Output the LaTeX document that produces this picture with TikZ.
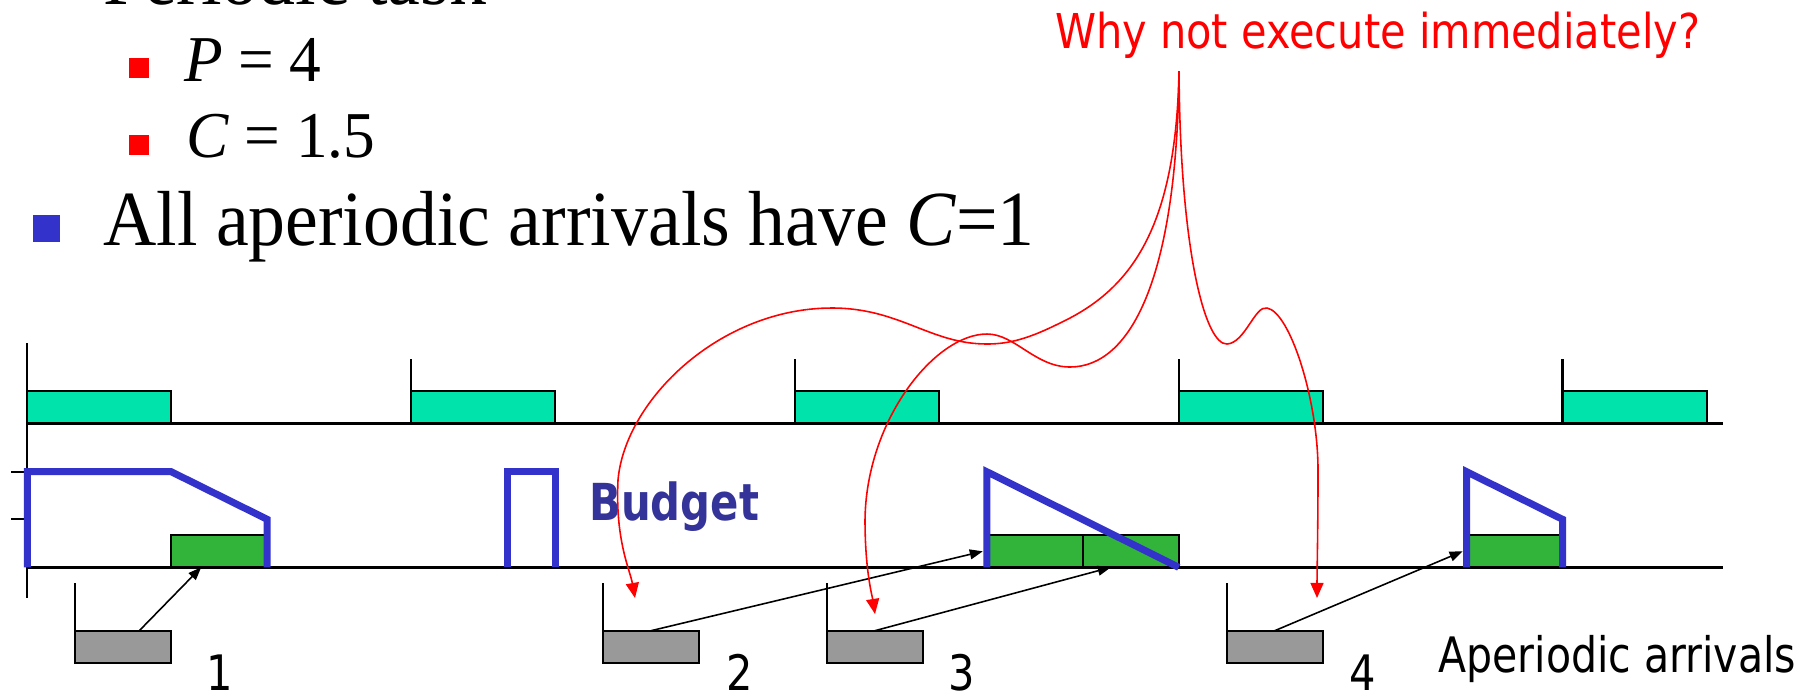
\documentclass[tikz,border=0pt]{standalone}
\usepackage{fontspec}
\usepackage{graphicx}
\setmainfont{Liberation Serif}
\newfontfamily\slidesans{DejaVu Sans}
\usetikzlibrary{arrows.meta,calc}
\definecolor{periodteal}{HTML}{00E3AA}
\definecolor{execgreen}{HTML}{32B43A}
\definecolor{arrivalgrey}{HTML}{999999}
\definecolor{budgetblue}{HTML}{3333CC}
\definecolor{budgetword}{HTML}{333399}
\definecolor{hintred}{HTML}{FF0000}

\begin{document}
\begin{tikzpicture}[x=0.01cm, y=-0.01cm, >={Triangle[length=3.7pt,width=2.8pt]},
                    every node/.style={inner sep=0pt, outer sep=0pt},
                    timeline/.style={line width=0.8pt},
                    tickline/.style={line width=0.6pt},
                    periodbox/.style={draw, line width=0.6pt, fill=periodteal, anchor=south west,
                                      minimum width=1.44cm, minimum height=0.32cm},
                    execbox/.style={draw, line width=0.6pt, fill=execgreen, anchor=south west,
                                    minimum width=0.96cm, minimum height=0.32cm},
                    arrivalbox/.style={draw, line width=0.6pt, fill=arrivalgrey, anchor=south west,
                                       minimum width=0.96cm, minimum height=0.32cm},
                    budgetline/.style={budgetblue, line width=2pt},
                    maparrow/.style={line width=0.45pt, ->},
                    hintcurve/.style={hintred, line width=0.45pt, -{Triangle[length=4.3pt,width=3.7pt]}},
                    serifline/.style={anchor=base west, font=\fontsize{22.2}{26}\selectfont},
                    subline/.style={anchor=base west, font=\fontsize{18.6}{22}\selectfont},
                    sansline/.style={font=\slidesans\fontsize{13.9}{16}\selectfont}]

  \useasboundingbox (0,0) rectangle (1819,693);

  %% 條列文字
  \node[serifline] (ptask) at (103,4) {\scalebox{0.945}[1]{Periodic task}};
  \fill[hintred] (129.3,58.3) rectangle (149.3,78.3);
  \node[subline] (pval) at (184,81) {\scalebox{0.968}[1]{\textit{P} = 4}};
  \fill[hintred] (129.3,135) rectangle (149.3,155);
  \node[subline] (cval) at (186,157.7) {\scalebox{0.968}[1]{\textit{C} = 1.5}};
  \fill[budgetblue] (33.3,215) rectangle (60,241.7);
  \node[serifline] (allc) at (103.3,245) {\scalebox{0.945}[1]{All aperiodic arrivals have \textit{C}=1}};

  %% 提問
  \node[sansline, anchor=base west, hintred, font=\slidesans\fontsize{13.66}{16}\selectfont]
       (why) at (1055,48.3) {\scalebox{0.864}[1]{Why not execute immediately?}};
  \coordinate (qfoot) at (1179,71);

  %% 週期工作
  \draw[tickline] (27.3,343.3) -- (27.3,598.3);
  \node[periodbox] (per0) at (27.3,423.3) {};
  \node[periodbox] (per1) at (411.1,423.3) {};
  \node[periodbox] (per2) at (794.9,423.3) {};
  \node[periodbox] (per3) at (1178.7,423.3) {};
  \node[periodbox] (per4) at (1562.5,423.3) {};
  \draw[tickline] (per1.south west) -- ++(0,-64);
  \draw[tickline] (per2.south west) -- ++(0,-64);
  \draw[tickline] (per3.south west) -- ++(0,-64);
  \draw[tickline] (per4.south west) -- ++(0,-64);
  \draw[timeline] (27.3,423.3) -- (1722.6,423.3);

  %% 預算刻度
  \draw[tickline] (11,471.7) -- (27.3,471.7);
  \draw[tickline] (11,519.3) -- (27.3,519.3);

  %% 非週期工作的執行
  \node[execbox] (g1)  at (171.2,567.3) {};
  \node[execbox] (g3a) at (986.8,567.3) {};
  \node[execbox] (g3b) at (1082.8,567.3) {};
  \node[execbox] (g4)  at (1466.6,567.3) {};
  \draw[tickline] (505,551) -- (505,567.3);
  \draw[timeline] (27.3,567.3) -- (1722.6,567.3);

  %% 預算曲線
  \draw[budgetline] (27.3,567.3) -- (27.3,471.7) -- (171.2,471.7) -- (267.2,519.3) -- (267.2,567.3);
  \draw[budgetline] (507.1,567.3) -- (507.1,471.7) -- (555.1,471.7) -- (555.1,567.3);
  \draw[budgetline] (986.8,567.3) -- (986.8,471.7) -- (1178.7,567.3);
  \draw[budgetline] (1466.6,567.3) -- (1466.6,471.7) -- (1562.5,519.3) -- (1562.5,567.3);
  \node[anchor=base west, budgetword, font=\slidesans\bfseries\fontsize{14.5}{17}\selectfont]
       (budget) at (589.3,520) {\scalebox{0.82}[1]{Budget}};

  %% 非週期到達
  \node[arrivalbox] (ap1) at (75.3,662.7) {};
  \node[arrivalbox] (ap2) at (603,662.7) {};
  \node[arrivalbox] (ap3) at (826.9,662.7) {};
  \node[arrivalbox] (ap4) at (1226.7,662.7) {};
  \draw[tickline] (ap1.north west) -- ++(0,-47.4);
  \draw[tickline] (ap2.north west) -- ++(0,-47.4);
  \draw[tickline] (ap3.north west) -- ++(0,-47.4);
  \draw[tickline] (ap4.north west) -- ++(0,-47.4);
  \node[sansline, anchor=base] (n1) at (219.5,690.7) {\scalebox{0.85}[1]{1}};
  \node[sansline, anchor=base] (n2) at (740,690.7) {\scalebox{0.85}[1]{2}};
  \node[sansline, anchor=base] (n3) at (961.7,690.7) {\scalebox{0.85}[1]{3}};
  \node[sansline, anchor=base] (n4) at (1363,690.7) {\scalebox{0.85}[1]{4}};
  \node[sansline, anchor=base west] (arrivals) at (1438.3,672.3) {\scalebox{0.84}[1]{Aperiodic arrivals}};

  %% 到達 → 執行
  \draw[maparrow] ($(ap1.north west)+(64,0)$) -- ($(g1.south west)+(30,0)$);
  \draw[maparrow] (ap2.north) -- ($(g3a.west)+(-4,0)$);
  \draw[maparrow] (ap3.north) -- ($(g3b.south west)+(28,0)$);
  \draw[maparrow] (ap4.north) -- ($(g4.west)+(-4,0)$);

  %% 紅色提示曲線
  \coordinate (miss2) at (635,598);
  \coordinate (miss3) at (875,614);
  \coordinate (miss4) at (1317,598);
  \draw[hintcurve] (qfoot) .. controls (1176,230) and (1130,290) .. (1060,323)
    .. controls (1030,338) and (1010,344) .. (987,344)
    .. controls (930,344) and (900,308) .. (832,308)
    .. controls (720,308) and (625,400) .. (618,480)
    .. controls (615,540) and (630,570) .. (miss2);
  \draw[hintcurve] (qfoot) .. controls (1177,280) and (1130,367) .. (1070,367)
    .. controls (1035,367) and (1015,334) .. (987,334)
    .. controls (935,334) and (866,420) .. (865,520)
    .. controls (865,570) and (872,595) .. (miss3);
  \draw[hintcurve] (qfoot) .. controls (1180,250) and (1205,345) .. (1227,344)
    .. controls (1245,343) and (1255,305) .. (1267,308)
    .. controls (1290,312) and (1318,400) .. (1318,470)
    .. controls (1318,530) and (1317,570) .. (miss4);

\end{tikzpicture}
\end{document}
